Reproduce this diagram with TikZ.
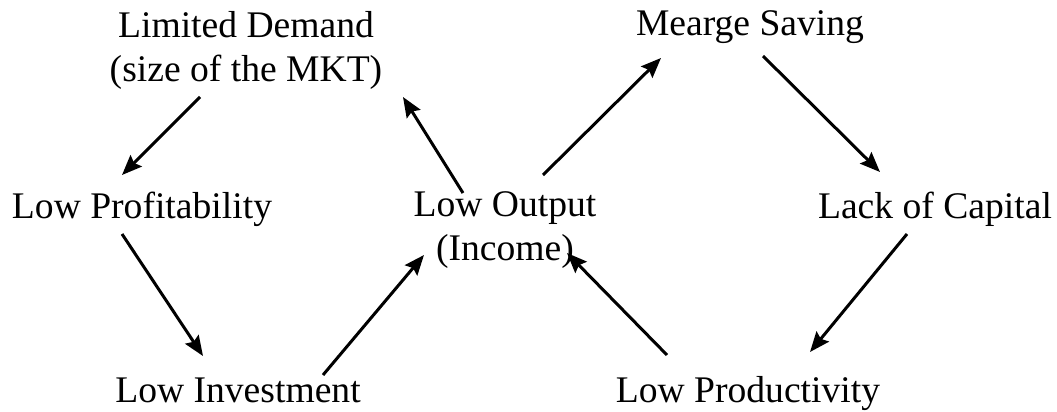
\documentclass[tikz,border=0pt]{standalone}
\usepackage{fontspec}
\setmainfont{Liberation Serif}
\usepackage{tikz}
\usetikzlibrary{calc,arrows.meta}

\begin{document}
\begin{tikzpicture}[x=0.5pt, y=-0.5pt,
    lbl/.style={inner sep=0pt, font=\fontsize{18.8}{22}\selectfont, align=center},
    flow/.style={line width=1.5pt, -{Stealth[length=10pt, width=8pt, inset=1.5pt]}}]

    % frame
    \useasboundingbox (0,0) rectangle (1057,412);

    % left loop
    \node[lbl, anchor=north] (ld) at (246,11) {Limited Demand\\(size of the MKT)};
    \node[lbl, anchor=base] (lp) at (142,218) {Low Profitability};
    \node[lbl, anchor=base] (li) at (238,402) {Low Investment};

    % centre
    \node[lbl, anchor=north] (lo) at (505,191) {Low Output\\(Income)};

    % right loop
    \node[lbl, anchor=base] (ms) at (750,35) {Mearge Saving};
    \node[lbl, anchor=base] (lc) at (935,218) {Lack of Capital};
    \node[lbl, anchor=base] (lpr) at (748,402) {Low Productivity};

    % arrows of the left loop
    \draw[flow] ($(ld.north)+(-46,86)$) -- ($(lp.base)+(-20,-43)$);
    \draw[flow] ($(lp.base)+(-20,16)$) -- ($(li.base)+(-35,-46)$);
    \draw[flow] ($(li.base)+(85,-27)$) -- ($(lo.north)+(-81,64)$);
    \draw[flow] ($(lo.north)+(-42,2)$) -- ($(ld.north)+(157,86)$);

    % arrows of the right loop
    \draw[flow] ($(lo.north)+(38,-16)$) -- ($(ms.base)+(-89,23)$);
    \draw[flow] ($(ms.base)+(13,21)$) -- ($(lc.base)+(-55,-46)$);
    \draw[flow] ($(lc.base)+(-28,16)$) -- ($(lpr.base)+(62,-50)$);
    \draw[flow] ($(lpr.base)+(-81,-47)$) -- ($(lo.north)+(62,62)$);

\end{tikzpicture}
\end{document}
